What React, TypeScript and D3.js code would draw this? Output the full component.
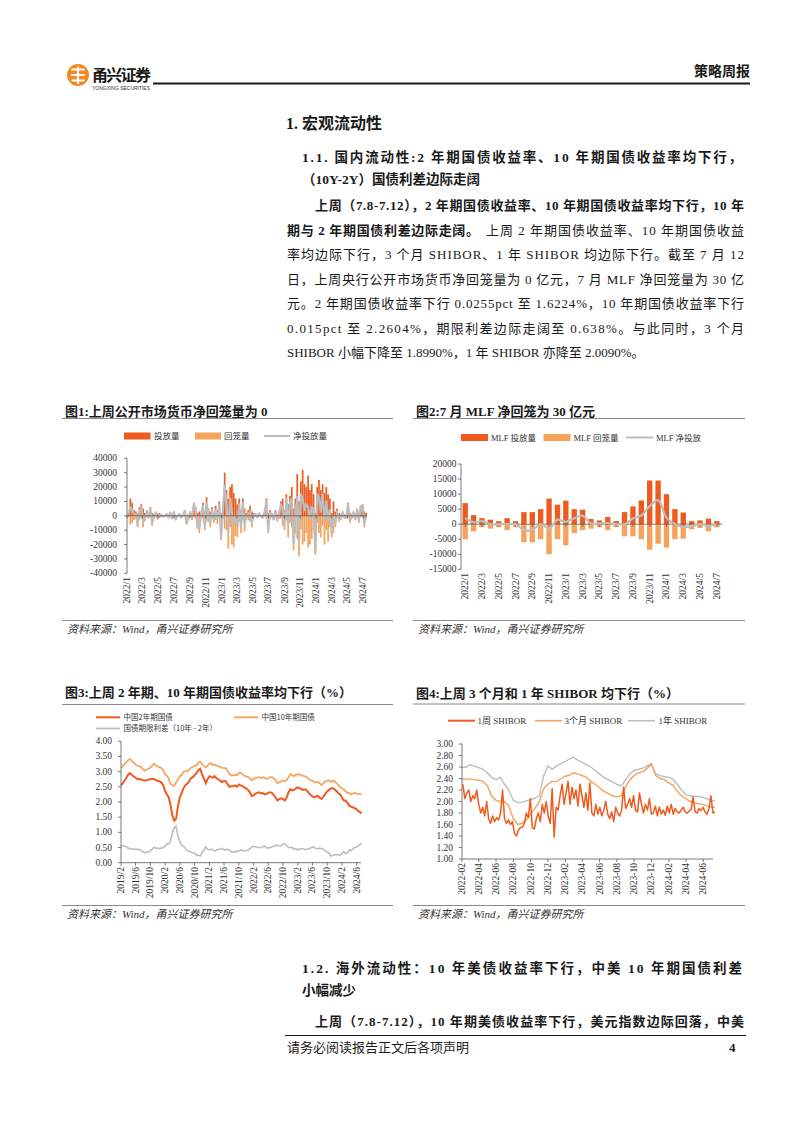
import React from "react";
import * as d3 from "d3";

const SERIF = "'Liberation Serif','Times New Roman','Noto Sans CJK SC',serif";
const SANS = "'Noto Sans CJK SC','Liberation Sans',sans-serif";
const DARK = "#EF5B1F";
const LIGHT = "#F6A25A";
const GRAY = "#BDBDBD";
const RULE = "#8A8A8A";
const INK = "#1a1a1a";
const AXIS = "#595959";

// 图1 公开市场 weekly (亿元), first week ends 2022-01-07
const omoFirstWeek = new Date(2022, 0, 7);
const omoInject = [
  2000, 12000, 9000, 4000, 3000, 1500, 6000, 8000, 5000, 2000,
  4000, 1000, 6000, 2000, 1000, 3000, 1500, 2000, 1000, 500,
  300, 1500, 300, 2500, 300, 3000, 500, 200, 1500, 300,
  200, 4000, 500, 1000, 3000, 2000, 9000, 6000, 2000, 3000,
  2000, 9000, 3000, 13000, 5000, 3000, 6000, 2000, 7000, 4000,
  10000, 2000, 6000, 30000, 18000, 12000, 20000, 22000, 16000, 12000,
  8000, 12000, 4000, 12000, 5000, 2000, 4000, 7000, 3000, 2000,
  1500, 500, 2000, 300, 1000, 3000, 12000, 2000, 4000, 2000,
  500, 4000, 1000, 3000, 10000, 12000, 4000, 15000, 8000, 14000,
  20000, 5000, 12000, 29000, 10000, 24000, 32000, 22000, 20000, 28000,
  18000, 22000, 15000, 2000, 20000, 25000, 18000, 22000, 16000, 20000,
  15000, 12000, 2000, 10000, 3000, 5000, 2000, 1000, 3000, 1000,
  500, 9000, 2000, 1000, 3000, 500, 5000, 2000, 7000, 8000, 3000, 2000,
];
const omoReturn = [
  -1000, -6000, -5000, -3000, -2000, -8000, -3000, -2000, -8000, -4000,
  -1000, -2000, -1000, -7000, -2000, -1000, -3000, -1500, -1000, -1000,
  -300, -300, -1500, -300, -2000, -300, -3000, -200, -300, -1500,
  -200, -500, -6000, -2000, -1000, -3000, -1000, -2000, -9000, -12000,
  -1000, -2000, -10000, -4000, -4000, -8000, -2000, -5000, -3000, -6000,
  -2000, -17000, -2000, -9000, -10000, -23000, -8000, -20000, -22000, -14000,
  -15000, -4000, -12000, -3000, -11000, -2000, -3000, -4000, -8000, -1500,
  -500, -1500, -300, -1000, -2000, -500, -2000, -12000, -2000, -1000,
  -3000, -1000, -4000, -2000, -2000, -7000, -10000, -3000, -15000, -5000,
  -8000, -24000, -12000, -16000, -28000, -9000, -20000, -18000, -12000, -22000,
  -20000, -16000, -10000, -27000, -5000, -12000, -15000, -7000, -20000, -10000,
  -18000, -8000, -15000, -12000, -8000, -2000, -4000, -3000, -1000, -2000,
  -2000, -1000, -5000, -2000, -1000, -3000, -1000, -5000, -1000, -1000, -8000, -2000,
];
const omoNet = [
  1000, 6000, 4000, 1000, 1000, -6500, 3000, 6000, -3000, -2000,
  3000, -1000, 5000, -5000, -1000, 2000, -1500, 500, 0, -500,
  0, 1200, -1200, 2200, -1700, 2700, -2500, 0, 1200, -1200,
  0, 3500, -5500, -1000, 2000, -1000, 8000, 4000, -7000, -9000,
  1000, 7000, -7000, 9000, 1000, -5000, 4000, -3000, 4000, -2000,
  8000, -15000, 4000, 21000, 8000, -11000, 12000, 2000, -6000, -2000,
  -7000, 8000, -8000, 9000, -6000, 0, 1000, 3000, -5000, 500,
  1000, -1000, 1700, -700, -1000, 2500, 10000, -10000, 2000, 1000,
  -2500, 3000, -3000, 1000, 8000, 5000, -6000, 12000, -7000, 9000,
  12000, -19000, 0, 13000, -18000, 15000, 12000, 4000, 8000, 6000,
  -2000, 6000, 5000, -25000, 15000, 13000, 3000, 15000, -4000, 10000,
  -3000, 4000, -13000, -2000, -5000, 3000, -2000, -2000, 2000, -1000,
  -1500, 8000, -3000, -1000, 2000, -2500, 4000, -3000, 6000, 7000, -5000, 0,
];
const monthTicks = [
  "2022/1", "2022/3", "2022/5", "2022/7", "2022/9", "2022/11", "2023/1", "2023/3",
  "2023/5", "2023/7", "2023/9", "2023/11", "2024/1", "2024/3", "2024/5", "2024/7",
];

// 图2 MLF monthly (亿元)
const mlfMonths = [
  "2022/1", "2022/2", "2022/3", "2022/4", "2022/5", "2022/6", "2022/7", "2022/8", "2022/9", "2022/10", "2022/11", "2022/12",
  "2023/1", "2023/2", "2023/3", "2023/4", "2023/5", "2023/6", "2023/7", "2023/8", "2023/9", "2023/10", "2023/11", "2023/12",
  "2024/1", "2024/2", "2024/3", "2024/4", "2024/5", "2024/6", "2024/7",
];
const mlfInject = [7000, 3000, 2000, 1500, 1000, 2000, 1000, 4000, 4000, 5000, 8500, 6500,
  7790, 4990, 4810, 1700, 1250, 2370, 1030, 4010, 5910, 7890, 14500, 14500,
  9950, 5000, 3870, 1000, 1250, 1820, 1000];
const mlfReturn = [-5000, -2400, -1000, -1500, -1000, -2000, -1000, -6000, -6000, -5000, -10000, -5000,
  -7000, -3000, -2000, -1500, -1000, -2000, -1000, -4000, -4000, -5000, -8500, -6500,
  -7790, -4990, -4810, -1700, -1250, -2370, -1030];
const mlfNet = [2000, 600, 1000, 0, 0, 0, 0, -2000, -2000, 0, -1500, 1500,
  790, 1990, 2810, 200, 250, 370, 30, 10, 1910, 2890, 6000, 8000,
  2160, 10, -940, -700, 0, -550, -30];

// 图3 国债收益率 (%), two readings per month from 2019-02, last on 2024-07-12
const cgbStart = new Date(2019, 1, 1);
const cgbEnd = new Date(2024, 6, 12);
const cgb2y = [
  2.55, 2.62, 2.70, 2.78, 2.90, 2.95, 2.90, 2.85, 2.80, 2.75, 2.76, 2.74, 2.72, 2.70, 2.72, 2.74, 2.75, 2.76, 2.76, 2.72, 2.70, 2.68,
  2.64, 2.55, 2.35, 2.25, 2.15, 1.90, 1.55, 1.38, 1.45, 1.85, 2.15, 2.30, 2.45, 2.55, 2.60, 2.68, 2.78, 2.82, 2.88, 2.95, 3.05, 3.10, 2.92, 2.78,
  2.62, 2.75, 2.85, 2.82, 2.80, 2.85, 2.78, 2.74, 2.70, 2.65, 2.70, 2.68, 2.58, 2.50, 2.52, 2.52, 2.55, 2.50, 2.58, 2.55, 2.52, 2.48, 2.45, 2.40,
  2.32, 2.20, 2.22, 2.28, 2.30, 2.32, 2.28, 2.30, 2.25, 2.26, 2.30, 2.32, 2.30, 2.24, 2.15, 2.05, 2.10, 2.12, 2.10, 2.05, 2.15, 2.32, 2.42, 2.38,
  2.40, 2.45, 2.48, 2.46, 2.42, 2.40, 2.42, 2.38, 2.30, 2.24, 2.18, 2.15, 2.18, 2.20, 2.14, 2.10, 2.18, 2.28, 2.35, 2.40, 2.44, 2.46, 2.42, 2.36,
  2.30, 2.25, 2.15, 2.05, 2.05, 1.98, 1.88, 1.85, 1.82, 1.80, 1.76, 1.70, 1.66, 1.62,
];
const cgb10y = [
  3.12, 3.18, 3.25, 3.30, 3.38, 3.42, 3.35, 3.30, 3.24, 3.20, 3.18, 3.16, 3.08, 3.03, 3.06, 3.10, 3.13, 3.20, 3.26, 3.20, 3.18, 3.14,
  3.12, 3.05, 2.90, 2.87, 2.77, 2.60, 2.55, 2.53, 2.65, 2.73, 2.85, 2.88, 3.00, 3.02, 3.00, 3.06, 3.13, 3.15, 3.20, 3.20, 3.30, 3.32, 3.25, 3.18,
  3.14, 3.20, 3.27, 3.27, 3.22, 3.23, 3.20, 3.18, 3.15, 3.12, 3.12, 3.11, 3.02, 2.92, 2.88, 2.88, 2.90, 2.88, 2.96, 2.97, 2.92, 2.86, 2.85, 2.82,
  2.78, 2.72, 2.76, 2.80, 2.80, 2.82, 2.78, 2.82, 2.80, 2.76, 2.78, 2.82, 2.82, 2.78, 2.72, 2.62, 2.65, 2.68, 2.72, 2.68, 2.71, 2.82, 2.92, 2.88,
  2.85, 2.91, 2.90, 2.92, 2.88, 2.86, 2.85, 2.82, 2.76, 2.72, 2.70, 2.66, 2.65, 2.66, 2.62, 2.56, 2.62, 2.68, 2.70, 2.72, 2.66, 2.70, 2.68, 2.62,
  2.56, 2.50, 2.45, 2.41, 2.35, 2.30, 2.30, 2.25, 2.28, 2.30, 2.28, 2.26, 2.26, 2.26,
];
const cgbSpread = [
  0.57, 0.56, 0.55, 0.52, 0.48, 0.47, 0.45, 0.45, 0.44, 0.45, 0.42, 0.42, 0.36, 0.33, 0.34, 0.36, 0.38, 0.44, 0.50, 0.48, 0.48, 0.46,
  0.48, 0.50, 0.55, 0.62, 0.62, 0.70, 1.00, 1.15, 1.20, 0.88, 0.70, 0.58, 0.55, 0.47, 0.40, 0.38, 0.35, 0.33, 0.32, 0.25, 0.25, 0.22, 0.33, 0.40,
  0.52, 0.45, 0.42, 0.45, 0.42, 0.38, 0.42, 0.44, 0.45, 0.47, 0.42, 0.43, 0.44, 0.42, 0.36, 0.36, 0.35, 0.38, 0.38, 0.42, 0.40, 0.38, 0.40, 0.42,
  0.46, 0.52, 0.54, 0.52, 0.50, 0.50, 0.50, 0.52, 0.55, 0.50, 0.48, 0.50, 0.52, 0.54, 0.57, 0.57, 0.55, 0.56, 0.62, 0.63, 0.56, 0.50, 0.50, 0.50,
  0.45, 0.46, 0.42, 0.46, 0.46, 0.46, 0.43, 0.44, 0.46, 0.48, 0.52, 0.51, 0.47, 0.46, 0.48, 0.46, 0.44, 0.40, 0.35, 0.32, 0.22, 0.24, 0.26, 0.26,
  0.26, 0.25, 0.30, 0.36, 0.30, 0.32, 0.42, 0.40, 0.46, 0.50, 0.52, 0.56, 0.60, 0.64,
];
const cgbTicks = [
  "2019/2", "2019/6", "2019/10", "2020/2", "2020/6", "2020/10", "2021/2", "2021/6", "2021/10",
  "2022/2", "2022/6", "2022/10", "2023/2", "2023/6", "2023/10", "2024/2", "2024/6",
];

// 图4 SHIBOR (%)
const shiborFirstWeek = new Date(2022, 1, 4);
const shibor1w = [
  2.30, 2.05, 2.15, 2.20, 2.00, 2.10, 2.05, 2.20, 1.95, 1.80, 1.90, 1.75, 2.00, 1.70, 1.62, 1.75, 1.65,
  1.72, 1.68, 1.80, 2.20, 1.70, 1.62, 1.68, 1.60, 1.65, 1.45, 1.40, 1.50, 1.55, 1.55, 1.62, 1.80, 1.72, 2.05,
  1.55, 1.52, 1.70, 1.80, 1.65, 1.95, 1.80, 2.00, 1.75, 1.62, 2.22, 1.38, 1.90,
  1.85, 2.10, 2.30, 1.95, 2.15, 2.35, 1.95, 2.25, 2.05, 2.20, 1.92, 2.30, 2.10, 1.90, 2.15, 1.85, 2.32,
  1.80, 1.75, 1.95, 1.78, 1.90, 1.75, 1.85, 2.00, 1.78, 1.70, 1.82, 1.65, 1.90, 1.80, 1.75, 1.85, 2.25,
  1.88, 1.95, 2.05, 1.90, 2.10, 1.85, 1.82, 2.15, 1.95, 1.80, 1.95, 1.85, 2.05, 1.78, 1.80, 1.92, 1.75, 1.90,
  1.78, 1.85, 1.76, 1.92, 1.80, 1.95, 1.78, 1.88, 1.82, 1.80, 1.85, 1.90, 1.82, 1.80, 1.83, 1.86, 2.08,
  1.82, 1.80, 1.88, 1.84, 1.90, 1.82, 1.78, 1.88, 2.10, 1.80, 1.82,
];
const shiborStart = new Date(2022, 1, 1);
const shiborEnd = new Date(2024, 6, 12);
const shibor3m = [
  2.40, 2.39, 2.39, 2.38, 2.37, 2.35, 2.28, 2.10, 2.02, 2.00, 2.00, 1.92, 1.70, 1.60, 1.62, 1.68, 1.78, 1.88, 2.00, 2.22, 2.30, 2.35,
  2.35, 2.40, 2.44, 2.46, 2.50, 2.48, 2.45, 2.42, 2.35, 2.30, 2.24, 2.18, 2.14, 2.10, 2.08, 2.10, 2.25, 2.38, 2.45, 2.50, 2.52, 2.58, 2.65, 2.45,
  2.40, 2.38, 2.32, 2.28, 2.18, 2.10, 2.05, 2.00, 1.98, 1.96, 1.95, 1.92, 1.90, 1.899,
];
const shibor1y = [
  2.59, 2.60, 2.64, 2.62, 2.59, 2.56, 2.50, 2.42, 2.38, 2.42, 2.30, 2.20, 2.02, 1.98, 1.99, 2.01, 2.03, 2.06, 2.10, 2.45, 2.62, 2.56,
  2.62, 2.66, 2.70, 2.74, 2.77, 2.72, 2.68, 2.64, 2.60, 2.54, 2.48, 2.42, 2.38, 2.34, 2.30, 2.27, 2.38, 2.48, 2.54, 2.56, 2.58, 2.62, 2.66, 2.48,
  2.45, 2.43, 2.42, 2.38, 2.30, 2.20, 2.12, 2.10, 2.09, 2.09, 2.07, 2.04, 2.02, 2.009,
];
const shiborTicks = [
  "2022-02", "2022-04", "2022-06", "2022-08", "2022-10", "2022-12", "2023-02", "2023-04",
  "2023-06", "2023-08", "2023-10", "2023-12", "2024-02", "2024-04", "2024-06",
];

const parseMonth = (s: string) => {
  const [y, m] = s.split(/[\/-]/).map(Number);
  return new Date(y, m - 1, 1);
};
const halfMonths = (start: Date, n: number, last: Date) =>
  d3.range(n).map((i) =>
    i === n - 1 ? last : new Date(start.getFullYear(), start.getMonth() + Math.floor(i / 2), i % 2 ? 16 : 1)
  );

const RotLabel = ({ x, y, text, size = 9.5 }: { x: number; y: number; text: string; size?: number }) => (
  <text transform={`translate(${x},${y}) rotate(-90)`} textAnchor="end" dominantBaseline="central"
    fontSize={size} fontFamily={SERIF} fill="#333">{text}</text>
);

const Frame = ({ x0, x1, title, titleY, ruleY, bottomY, srcY }: any) => (
  <g>
    <text x={x0 + 3} y={titleY} fontSize={13} fontWeight={700} fontFamily={SERIF} fill={INK}>{title}</text>
    <line x1={x0} x2={x1} y1={ruleY} y2={ruleY} stroke={RULE} strokeWidth={1.2} />
    <line x1={x0} x2={x1} y1={bottomY} y2={bottomY} stroke={RULE} strokeWidth={1.2} />
    <text x={x0 + 5} y={srcY} fontSize={11} fontStyle="italic" fontFamily={SERIF} fill="#333">资料来源：Wind，甬兴证券研究所</text>
  </g>
);

const YAxis = ({ y, x, ticks, fmt, x1 }: any) => (
  <g>
    <line x1={x} x2={x} y1={y(ticks[0])} y2={y(ticks[ticks.length - 1])} stroke={AXIS} strokeWidth={0.8} />
    {ticks.map((t: number) => (
      <g key={t}>
        <line x1={x - 3} x2={x} y1={y(t)} y2={y(t)} stroke={AXIS} strokeWidth={0.8} />
        <text x={x1} y={y(t)} textAnchor="end" dominantBaseline="central" fontSize={9.5} fontFamily={SERIF} fill="#333">{fmt(t)}</text>
      </g>
    ))}
  </g>
);

const Chart1 = () => {
  const x = d3.scaleTime().domain([new Date(2022, 0, 1), new Date(2024, 6, 1)]).range([127, 363.3]);
  const y = d3.scaleLinear().domain([-40000, 40000]).range([573.3, 458.3]);
  const dates = omoInject.map((_, i) => d3.timeDay.offset(omoFirstWeek, 7 * i));
  const bw = 1.7;
  const bar = (v: number, d: Date, c: string, k: string) => (
    <rect key={k} x={x(d) - bw / 2} y={y(Math.max(v, 0))} width={bw} height={Math.abs(y(v) - y(0))} fill={c} />
  );
  const line = d3.line<number>().x((_, i) => x(dates[i])).y((v) => y(v));
  return (
    <g>
      <Frame x0={62} x1={393} title="图1:上周公开市场货币净回笼量为 0" titleY={415.5} ruleY={418.5} bottomY={620.5} srcY={633} />
      <rect x={124} y={432.5} width={26.5} height={7} fill={DARK} />
      <text x={154} y={439} fontSize={8.5} fontFamily={SANS} fill="#333">投放量</text>
      <rect x={195} y={432.5} width={26} height={7} fill={LIGHT} />
      <text x={224} y={439} fontSize={8.5} fontFamily={SANS} fill="#333">回笼量</text>
      <line x1={264} x2={290} y1={436} y2={436} stroke={GRAY} strokeWidth={2} />
      <text x={293} y={439} fontSize={8.5} fontFamily={SANS} fill="#333">净投放量</text>
      {omoInject.map((v, i) => bar(v, dates[i], DARK, "i" + i))}
      {omoReturn.map((v, i) => bar(v, dates[i], LIGHT, "r" + i))}
      <path d={line(omoNet) || ""} fill="none" stroke={GRAY} strokeWidth={2.2} strokeLinejoin="round" />
      <line x1={127} x2={367} y1={y(0)} y2={y(0)} stroke={AXIS} strokeWidth={0.8} />
      {monthTicks.map((t) => (
        <line key={t} x1={x(parseMonth(t))} x2={x(parseMonth(t))} y1={y(0)} y2={y(0) + 2.5} stroke={AXIS} strokeWidth={0.8} />
      ))}
      <YAxis y={y} x={127} x1={117} ticks={y.ticks(8)} fmt={(t: number) => String(t)} />
      {monthTicks.map((t) => <RotLabel key={t} x={x(parseMonth(t))} y={577} text={t} />)}
    </g>
  );
};

const Chart2 = () => {
  const x = d3.scaleBand<string>().domain(mlfMonths).range([461, 721]).paddingInner(0.36).paddingOuter(0.18);
  const y = d3.scaleLinear().domain([-15000, 20000]).range([569.3, 464]);
  const bw = x.bandwidth();
  const cx = (m: string) => (x(m) as number) + bw / 2;
  const line = d3.line<number>().x((_, i) => cx(mlfMonths[i])).y((v) => y(v)).curve(d3.curveCatmullRom.alpha(0.5));
  return (
    <g>
      <Frame x0={413} x1={745} title="图2:7 月 MLF 净回笼为 30 亿元" titleY={415.5} ruleY={418.5} bottomY={620.5} srcY={633} />
      <rect x={461} y={434} width={27} height={7} fill={DARK} />
      <text x={491} y={440.5} fontSize={8.5} fontFamily={SERIF} fill="#333">MLF 投放量</text>
      <rect x={543.5} y={434} width={27} height={7} fill={LIGHT} />
      <text x={573.5} y={440.5} fontSize={8.5} fontFamily={SERIF} fill="#333">MLF 回笼量</text>
      <line x1={626} x2={653} y1={437.5} y2={437.5} stroke={GRAY} strokeWidth={2} />
      <text x={656} y={440.5} fontSize={8.5} fontFamily={SERIF} fill="#333">MLF 净投放</text>
      {mlfInject.map((v, i) => (
        <rect key={"i" + i} x={x(mlfMonths[i])} y={y(v)} width={bw} height={y(0) - y(v)} fill={DARK} />
      ))}
      {mlfReturn.map((v, i) => (
        <rect key={"r" + i} x={x(mlfMonths[i])} y={y(0)} width={bw} height={y(v) - y(0)} fill={LIGHT} />
      ))}
      <line x1={461} x2={722} y1={y(0)} y2={y(0)} stroke={AXIS} strokeWidth={0.8} />
      {monthTicks.map((t) => (
        <line key={t} x1={cx(t)} x2={cx(t)} y1={y(0)} y2={y(0) + 2.5} stroke={AXIS} strokeWidth={0.8} />
      ))}
      <path d={line(mlfNet) || ""} fill="none" stroke={GRAY} strokeWidth={2.2} />
      <YAxis y={y} x={461} x1={456.5} ticks={y.ticks(7)} fmt={(t: number) => String(t)} />
      {monthTicks.map((t) => <RotLabel key={t} x={cx(t)} y={573} text={t} />)}
    </g>
  );
};

const Chart3 = () => {
  const x = d3.scaleTime().domain([new Date(2019, 1, 1), new Date(2024, 5, 1)]).range([121, 356.7]);
  const y = d3.scaleLinear().domain([0, 4]).range([862.7, 741.3]);
  const dates = halfMonths(cgbStart, cgb2y.length, cgbEnd);
  const line = d3.line<number>().x((_, i) => x(dates[i])).y((v) => y(v));
  return (
    <g>
      <Frame x0={62} x1={393} title="图3:上周 2 年期、10 年期国债收益率均下行（%）" titleY={697} ruleY={704.5} bottomY={905.5} srcY={917.5} />
      <line x1={96} x2={120} y1={717.3} y2={717.3} stroke={DARK} strokeWidth={2} />
      <text x={123.5} y={720} fontSize={7.5} fontFamily={SANS} fill="#333">中国2年期国债</text>
      <line x1={234} x2={258} y1={717.3} y2={717.3} stroke={LIGHT} strokeWidth={1.8} />
      <text x={261.5} y={720} fontSize={7.5} fontFamily={SANS} fill="#333">中国10年期国债</text>
      <line x1={96} x2={120} y1={728.5} y2={728.5} stroke={GRAY} strokeWidth={1.8} />
      <text x={123.5} y={731.2} fontSize={7.5} fontFamily={SANS} fill="#333">国债期限利差（10年 - 2年）</text>
      <path d={line(cgbSpread) || ""} fill="none" stroke={GRAY} strokeWidth={1.6} />
      <path d={line(cgb10y) || ""} fill="none" stroke={LIGHT} strokeWidth={1.7} />
      <path d={line(cgb2y) || ""} fill="none" stroke={DARK} strokeWidth={2} />
      <line x1={121} x2={361} y1={y(0)} y2={y(0)} stroke={AXIS} strokeWidth={0.8} />
      {cgbTicks.map((t) => (
        <line key={t} x1={x(parseMonth(t))} x2={x(parseMonth(t))} y1={y(0)} y2={y(0) + 3} stroke={AXIS} strokeWidth={0.8} />
      ))}
      <YAxis y={y} x={121} x1={112} ticks={y.ticks(8)} fmt={d3.format(".2f")} />
      {cgbTicks.map((t) => <RotLabel key={t} x={x(parseMonth(t))} y={867} text={t} />)}
    </g>
  );
};

const Chart4 = () => {
  const x = d3.scaleTime().domain([new Date(2022, 1, 1), new Date(2024, 5, 1)]).range([462, 703.3]);
  const y = d3.scaleLinear().domain([1, 3]).range([859, 744]);
  const half = halfMonths(shiborStart, shibor3m.length, shiborEnd);
  const weeks = shibor1w.map((_, i) => d3.timeDay.offset(shiborFirstWeek, 7 * i));
  const lineH = d3.line<number>().x((_, i) => x(half[i])).y((v) => y(v));
  const lineW = d3.line<number>().x((_, i) => x(weeks[i])).y((v) => y(v));
  return (
    <g>
      <Frame x0={413} x1={745} title="图4:上周 3 个月和 1 年 SHIBOR 均下行（%）" titleY={697.5} ruleY={704} bottomY={905.5} srcY={917.5} />
      <line x1={448} x2={475} y1={720.7} y2={720.7} stroke={DARK} strokeWidth={2} />
      <text x={477.5} y={723.8} fontSize={9} fontFamily={SERIF} fill="#333">1周 SHIBOR</text>
      <line x1={535} x2={562} y1={720.7} y2={720.7} stroke={LIGHT} strokeWidth={1.6} />
      <text x={564.5} y={723.8} fontSize={9} fontFamily={SERIF} fill="#333">3个月 SHIBOR</text>
      <line x1={628} x2={655} y1={720.7} y2={720.7} stroke={GRAY} strokeWidth={1.6} />
      <text x={658.5} y={723.8} fontSize={9} fontFamily={SERIF} fill="#333">1年 SHIBOR</text>
      <path d={lineH(shibor1y) || ""} fill="none" stroke={GRAY} strokeWidth={1.4} />
      <path d={lineH(shibor3m) || ""} fill="none" stroke={LIGHT} strokeWidth={1.4} />
      <path d={lineW(shibor1w) || ""} fill="none" stroke={DARK} strokeWidth={1.5} strokeLinejoin="round" />
      <line x1={462} x2={713} y1={y(1)} y2={y(1)} stroke={AXIS} strokeWidth={0.8} />
      {shiborTicks.map((t) => (
        <line key={t} x1={x(parseMonth(t))} x2={x(parseMonth(t))} y1={y(1)} y2={y(1) + 3} stroke={AXIS} strokeWidth={0.8} />
      ))}
      <YAxis y={y} x={462} x1={453} ticks={y.ticks(10)} fmt={d3.format(".2f")} />
      {shiborTicks.map((t) => <RotLabel key={t} x={x(parseMonth(t))} y={863} text={t} />)}
    </g>
  );
};

const Txt = ({ x, y, s = 13, w, b, children, anchor }: any) => (
  <text x={x} y={y} fontSize={s} fontWeight={b ? 700 : 400} fontFamily={SERIF} fill={INK}
    textLength={w} lengthAdjust={w ? "spacing" : undefined} textAnchor={anchor}>{children}</text>
);

const Header = () => (
  <g>
    <circle cx={78} cy={75} r={11} fill="#F08A22" />
    <path d="M71.5 69.5 H84.5 M71 75 H85 M71.5 80.5 H84.5 M78 66.5 V84" stroke="#fff" strokeWidth={2.2} fill="none" />
    <text x={92} y={81} fontSize={16} fontWeight={700} fontFamily={SANS} fill={INK} textLength={59} lengthAdjust="spacing">甬兴证券</text>
    <text x={92} y={90} fontSize={5} fontFamily="'Liberation Sans',sans-serif" fill="#333" textLength={58} lengthAdjust="spacing">YONGXING SECURITIES</text>
    <line x1={153} x2={750} y1={83.5} y2={83.5} stroke={INK} strokeWidth={2} />
    <Txt x={750} y={76} s={14} b anchor="end">策略周报</Txt>
  </g>
);

const Body = () => (
  <g>
    <Txt x={286} y={128.5} s={16} b>1. 宏观流动性</Txt>
    <Txt x={302} y={162} s={13.5} b w={440}>1.1. 国内流动性:2 年期国债收益率、10 年期国债收益率均下行，</Txt>
    <Txt x={302} y={184} s={13.5} b>（10Y-2Y）国债利差边际走阔</Txt>
    <Txt x={315} y={210} b w={429}>上周（7.8-7.12），2 年期国债收益率、10 年期国债收益率均下行，10 年</Txt>
    <Txt x={287} y={234.5} b w={192}>期与 2 年期国债利差边际走阔。</Txt>
    <Txt x={486} y={234.5} w={258}>上周 2 年期国债收益率、10 年期国债收益</Txt>
    <Txt x={287} y={259} w={457}>率均边际下行，3 个月 SHIBOR、1 年 SHIBOR 均边际下行。截至 7 月 12</Txt>
    <Txt x={287} y={283.5} w={457}>日，上周央行公开市场货币净回笼量为 0 亿元，7 月 MLF 净回笼量为 30 亿</Txt>
    <Txt x={287} y={308} w={457}>元。2 年期国债收益率下行 0.0255pct 至 1.6224%，10 年期国债收益率下行</Txt>
    <Txt x={287} y={332.5} w={457}>0.015pct 至 2.2604%，期限利差边际走阔至 0.638%。与此同时，3 个月</Txt>
    <Txt x={287} y={357}>SHIBOR 小幅下降至 1.8990%，1 年 SHIBOR 亦降至 2.0090%。</Txt>

    <Txt x={302} y={973} s={13.5} b w={440}>1.2. 海外流动性：10 年美债收益率下行，中美 10 年期国债利差</Txt>
    <Txt x={302} y={995} s={13.5} b>小幅减少</Txt>
    <Txt x={315} y={1026} b w={429}>上周（7.8-7.12），10 年期美债收益率下行，美元指数边际回落，中美</Txt>
    <line x1={285} x2={746} y1={1035.5} y2={1035.5} stroke={INK} strokeWidth={1.2} />
    <Txt x={287} y={1051.5} s={13}>请务必阅读报告正文后各项声明</Txt>
    <Txt x={729} y={1051.5} s={13} b>4</Txt>
  </g>
);

export default function App() {
  return (
    <div style={{ position: "absolute", left: 0, top: 0 }}>
      <svg width={802} height={1133} viewBox="0 0 802 1133" style={{ display: "block", background: "#fff" }}>
        <rect width={802} height={1133} fill="#fff" />
        <Header />
        <Body />
        <Chart1 />
        <Chart2 />
        <Chart3 />
        <Chart4 />
      </svg>
    </div>
  );
}
